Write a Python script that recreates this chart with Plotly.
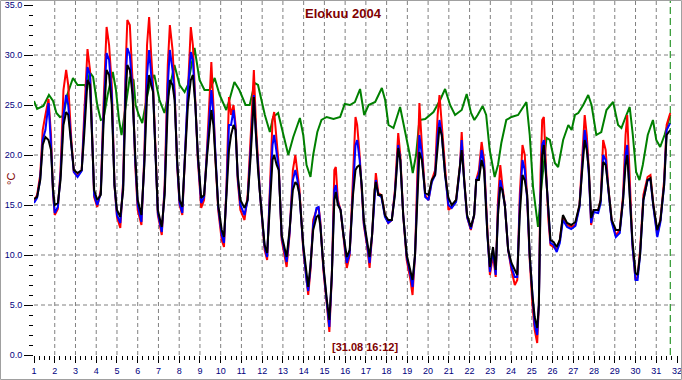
import plotly.graph_objects as go

# ---- data ----
title_text = "Elokuu 2004"
marker_text = "[31.08 16:12]"
marker_day = 31.675

t_main = [1.00, 1.15, 1.30, 1.42, 1.55, 1.70, 1.82, 1.92, 2.00, 2.15, 2.28, 2.42, 2.55, 2.65, 2.80, 2.92,
          3.10, 3.30, 3.42, 3.58, 3.70, 3.80, 3.90, 4.05, 4.22, 4.35, 4.50, 4.62, 4.75, 4.88,
          5.00, 5.16, 5.30, 5.42, 5.50, 5.62, 5.75, 5.88, 6.00, 6.18, 6.32, 6.45, 6.55, 6.65, 6.74, 6.86, 6.97,
          7.16, 7.30, 7.45, 7.55, 7.68, 7.78, 7.90, 8.02, 8.15, 8.28, 8.42, 8.56, 8.66, 8.78, 8.90,
          9.06, 9.20, 9.35, 9.48, 9.55, 9.65, 9.75, 9.88, 10.05, 10.16, 10.28, 10.40, 10.50, 10.62, 10.72, 10.82, 10.95,
          11.15, 11.30, 11.45, 11.60, 11.70, 11.80, 11.90, 12.12, 12.24, 12.36, 12.50, 12.58, 12.70, 12.80, 12.94,
          13.18, 13.32, 13.48, 13.60, 13.70, 13.80, 13.98, 14.15, 14.22, 14.33, 14.46, 14.62, 14.72, 14.80, 14.95,
          15.12, 15.24, 15.36, 15.48, 15.55, 15.65, 15.78, 15.92, 16.08, 16.22, 16.38, 16.50, 16.58, 16.70, 16.80, 16.90,
          17.05, 17.18, 17.30, 17.42, 17.48, 17.60, 17.75, 17.92, 18.08, 18.25, 18.40, 18.56, 18.66, 18.80, 18.97,
          19.15, 19.25, 19.37, 19.50, 19.58, 19.70, 19.86, 20.02, 20.18, 20.34, 20.46, 20.55, 20.66, 20.82, 20.98,
          21.14, 21.35, 21.54, 21.62, 21.74, 21.88, 22.06, 22.22, 22.32, 22.45, 22.58, 22.70, 22.86, 22.98,
          23.13, 23.26, 23.37, 23.48, 23.58, 23.70, 23.86, 24.02, 24.18, 24.30, 24.42, 24.55, 24.66, 24.78, 24.90,
          25.03, 25.14, 25.26, 25.34, 25.42, 25.50, 25.58, 25.70, 25.80, 25.90, 26.05, 26.20, 26.35, 26.50, 26.70, 26.90,
          27.10, 27.30, 27.45, 27.55, 27.65, 27.75, 27.86, 27.98, 28.20, 28.32, 28.44, 28.56, 28.70, 28.85,
          29.05, 29.24, 29.40, 29.52, 29.60, 29.70, 29.85, 30.00, 30.10, 30.22, 30.38, 30.58, 30.72, 30.86,
          31.05, 31.20, 31.38, 31.50, 31.675]

black = [15.6, 15.8, 17.5, 21.0, 21.8, 21.5, 20.5, 16.5, 15.0, 15.2, 17.5, 23.0, 24.3, 24.0, 21.0, 18.5,
         18.2, 18.5, 22.0, 27.5, 27.0, 21.0, 16.5, 15.5, 16.0, 23.0, 28.5, 28.0, 25.0, 17.0,
         14.5, 13.8, 16.5, 26.0, 29.0, 28.5, 26.0, 20.0, 15.5, 14.0, 19.0, 26.0, 28.0, 27.0, 26.3, 20.0, 14.5,
         12.8, 16.0, 25.0, 27.5, 27.0, 25.5, 19.5, 15.5, 14.8, 19.5, 25.0, 27.5, 28.0, 25.0, 20.0,
         15.7, 16.0, 20.0, 23.5, 24.5, 23.0, 20.0, 15.0, 12.5, 11.8, 16.0, 20.5, 22.0, 23.0, 22.5, 18.0, 15.5,
         14.7, 15.5, 20.0, 25.8, 22.0, 18.5, 16.0, 11.0, 10.2, 15.0, 19.5, 20.0, 19.0, 18.5, 12.0,
         9.8, 12.5, 16.5, 17.3, 17.0, 16.0, 11.0, 7.8, 6.8, 9.0, 12.5, 13.8, 14.0, 13.0, 9.0,
         5.5, 3.5, 8.0, 15.5, 16.3, 15.0, 14.5, 12.0, 9.8, 10.5, 16.0, 18.5, 18.8, 19.0, 17.0, 13.5,
         11.5, 9.8, 12.0, 16.5, 17.3, 16.0, 16.0, 14.0, 13.5, 13.5, 16.0, 20.7, 19.5, 14.0, 10.0,
         8.5, 7.5, 10.0, 17.0, 20.3, 19.5, 16.2, 16.0, 17.5, 18.0, 21.0, 22.8, 22.0, 18.0, 15.7,
         15.0, 15.5, 18.7, 20.5, 17.5, 14.0, 12.8, 14.0, 17.5, 17.5, 19.5, 18.5, 12.0, 8.8,
         10.8, 8.5, 14.0, 16.8, 16.5, 15.0, 10.5, 9.2, 8.5, 8.0, 14.0, 18.0, 17.5, 16.0, 10.0,
         6.0, 3.8, 2.7, 5.0, 15.0, 20.0, 21.0, 17.5, 14.0, 11.5, 11.3, 10.8, 11.5, 14.0, 13.2, 13.0,
         13.3, 15.0, 19.0, 21.5, 20.5, 18.5, 13.7, 14.5, 14.5, 15.5, 19.3, 19.0, 16.5, 13.5,
         12.5, 12.5, 15.5, 19.0, 20.0, 17.0, 11.5, 8.2, 8.0, 10.0, 15.5, 17.5, 17.7, 15.0,
         12.5, 13.5, 17.0, 22.0, 22.5]

red = [15.4, 16.0, 18.0, 22.5, 24.0, 25.6, 22.0, 16.0, 14.0, 14.6, 18.5, 26.5, 28.5, 27.0, 21.5, 18.3,
       17.9, 18.5, 24.0, 30.6, 28.5, 22.0, 15.8, 14.8, 16.5, 25.0, 32.8, 31.0, 27.0, 17.0,
       13.8, 12.7, 17.5, 29.0, 33.5, 33.0, 27.5, 19.0, 14.5, 13.0, 20.0, 31.0, 33.8, 30.0, 27.0, 20.5, 14.0,
       12.0, 17.0, 29.0, 33.0, 30.5, 26.5, 19.0, 15.0, 14.0, 20.0, 28.0, 32.8, 31.0, 25.5, 19.5,
       14.7, 15.5, 21.0, 27.0, 29.3, 25.0, 19.5, 14.5, 11.5, 10.8, 17.0, 25.8, 24.0, 25.0, 23.0, 17.5, 14.5,
       13.5, 16.0, 22.0, 28.5, 23.0, 19.0, 16.0, 10.5, 9.5, 16.0, 23.5, 24.3, 21.0, 19.0, 11.5,
       8.8, 12.0, 18.5, 20.0, 18.5, 16.5, 10.5, 7.0, 6.0, 8.5, 13.5, 14.5, 14.8, 13.5, 8.5,
       5.0, 2.3, 8.0, 18.5, 18.8, 15.5, 14.5, 11.5, 8.7, 10.0, 18.0, 23.8, 23.0, 20.0, 16.5, 13.0,
       11.0, 8.7, 12.0, 17.0, 18.2, 16.2, 16.0, 14.0, 13.2, 13.5, 16.5, 22.2, 20.0, 14.0, 9.5,
       7.5, 6.0, 10.0, 20.0, 25.2, 21.0, 16.0, 15.5, 17.5, 18.5, 24.0, 26.0, 23.0, 18.0, 14.5,
       14.8, 15.5, 19.0, 22.3, 17.5, 13.8, 12.5, 14.0, 17.5, 18.5, 21.3, 19.5, 12.5, 8.0,
       10.0, 7.8, 15.5, 19.0, 17.0, 15.0, 10.5, 8.5, 7.0, 7.5, 16.0, 21.0, 20.0, 15.5, 9.5,
       5.0, 2.5, 1.2, 5.0, 18.0, 23.5, 23.8, 18.0, 13.5, 11.0, 10.8, 10.5, 11.5, 13.8, 13.0, 12.8,
       13.0, 15.0, 20.0, 24.0, 22.0, 18.5, 13.0, 14.5, 14.5, 15.5, 21.5, 20.5, 16.5, 13.5,
       12.0, 12.5, 16.0, 22.0, 24.0, 18.0, 11.0, 7.5, 7.8, 10.5, 16.0, 17.8, 18.0, 15.0,
       12.0, 13.5, 17.5, 23.0, 24.2]

blue = [15.2, 15.7, 17.6, 21.5, 22.5, 25.2, 21.0, 16.2, 14.2, 14.8, 18.0, 24.0, 26.0, 25.0, 21.0, 18.3,
        17.8, 18.4, 23.0, 28.8, 28.0, 21.5, 16.0, 15.0, 16.2, 24.0, 30.2, 29.5, 26.0, 17.0,
        14.0, 13.2, 17.0, 27.5, 30.7, 30.0, 26.5, 19.5, 15.0, 13.3, 19.5, 28.0, 30.5, 28.0, 26.5, 20.0, 14.2,
        12.3, 16.5, 27.0, 30.5, 28.5, 26.0, 19.2, 15.2, 14.2, 19.8, 26.5, 30.3, 29.5, 25.0, 19.8,
        15.2, 15.8, 20.5, 25.0, 26.5, 24.0, 19.8, 14.8, 12.0, 11.2, 16.5, 23.0, 23.0, 24.5, 22.5, 17.8, 15.0,
        14.0, 15.5, 21.0, 26.0, 22.0, 18.5, 16.0, 10.8, 9.8, 15.5, 21.0, 22.0, 20.0, 18.7, 11.8,
        9.3, 12.2, 17.5, 18.5, 17.5, 16.0, 10.8, 7.3, 6.4, 8.8, 13.0, 14.7, 14.8, 13.2, 8.8,
        5.2, 2.8, 8.0, 16.5, 17.0, 15.2, 14.5, 11.8, 9.2, 10.2, 17.0, 21.0, 21.5, 19.5, 16.8, 13.2,
        11.2, 9.2, 12.0, 16.5, 17.5, 16.0, 15.8, 13.8, 13.2, 13.5, 16.2, 21.0, 19.5, 14.0, 9.8,
        8.0, 6.8, 10.0, 18.0, 22.0, 20.0, 15.8, 15.5, 17.3, 18.0, 22.0, 23.5, 22.0, 18.0, 15.0,
        14.7, 15.3, 18.8, 21.5, 17.3, 13.8, 12.6, 14.0, 17.5, 18.0, 20.5, 19.0, 12.0, 8.3,
        10.5, 8.0, 14.5, 17.5, 16.5, 15.0, 10.5, 8.8, 7.8, 7.8, 15.0, 19.5, 18.5, 15.5, 9.8,
        5.5, 3.0, 2.0, 5.0, 16.0, 21.0, 21.5, 17.5, 13.5, 11.2, 11.0, 10.3, 11.2, 13.5, 12.8, 12.6,
        12.9, 14.8, 19.5, 22.5, 21.0, 18.0, 13.2, 14.3, 14.2, 15.2, 20.0, 19.5, 16.3, 13.3,
        11.8, 12.2, 15.5, 20.0, 21.0, 17.0, 11.0, 7.5, 7.5, 10.0, 15.5, 17.5, 17.5, 14.8,
        11.8, 13.3, 17.0, 22.5, 23.2]

t_green = [1.00, 1.15, 1.45, 1.72, 1.92, 2.08, 2.25, 2.42, 2.60, 2.88, 3.10, 3.45, 3.56, 3.68, 3.85,
           4.05, 4.22, 4.35, 4.55, 4.80, 4.95, 5.10, 5.22, 5.40, 5.62, 5.80, 5.90, 6.05, 6.22, 6.42, 6.60, 6.80,
           7.05, 7.29, 7.53, 7.77, 8.02, 8.26, 8.42, 8.74, 8.98, 9.22, 9.47, 9.71, 9.95, 10.27, 10.42, 10.66, 10.90,
           11.20, 11.40, 11.64, 11.80, 11.97, 12.13, 12.37, 12.53, 12.77, 13.02, 13.26, 13.50, 13.82, 13.98,
           14.14, 14.33, 14.46, 14.66, 14.86, 15.11, 15.44, 15.76, 15.98, 16.23, 16.47, 16.72, 16.92,
           17.13, 17.45, 17.77, 17.93, 18.09, 18.33, 18.65, 18.89, 19.10, 19.26, 19.42, 19.58, 19.86,
           20.26, 20.58, 20.82, 21.06, 21.30, 21.62, 21.86, 22.07, 22.23, 22.39, 22.63, 22.80, 22.97,
           23.21, 23.37, 23.53, 23.77, 24.02, 24.34, 24.50, 24.74, 24.90, 25.06, 25.30, 25.47, 25.71, 25.87,
           26.11, 26.27, 26.51, 26.76, 26.92, 27.08, 27.24, 27.48, 27.72, 27.88, 28.11, 28.35, 28.60, 28.92,
           29.16, 29.32, 29.56, 29.72, 29.87, 30.03, 30.19, 30.35, 30.59, 30.84, 31.00, 31.19, 31.40, 31.675]

green = [25.4, 24.6, 24.9, 26.0, 25.4, 24.2, 23.8, 23.9, 26.0, 27.7, 27.0, 27.0, 26.5, 28.3, 27.8,
         25.0, 23.5, 23.6, 26.0, 28.3, 26.5, 23.5, 22.0, 24.5, 27.8, 27.5, 25.0, 24.0, 23.2, 25.5, 27.3, 28.0,
         25.5, 24.2, 26.5, 29.0, 27.0, 26.3, 27.0, 30.7, 27.5, 26.5, 26.5, 27.7, 26.0, 24.5, 25.5, 27.3, 26.5,
         25.0, 25.0, 27.2, 27.0, 25.5, 24.0, 22.3, 23.8, 24.2, 22.0, 20.0, 21.8, 23.7, 22.0,
         19.0, 17.8, 20.0, 22.3, 23.5, 23.8, 23.6, 23.8, 25.1, 25.0, 25.3, 26.6, 24.0,
         25.0, 25.3, 26.7, 25.5, 23.0, 22.7, 24.8, 22.5, 20.2, 18.2, 20.0, 23.5, 23.6,
         24.3, 25.5, 26.6, 25.0, 24.0, 24.5, 26.1, 24.2, 23.5, 24.0, 24.9, 24.0, 20.5,
         17.8, 19.0, 21.2, 23.5, 23.8, 24.0, 24.5, 25.3, 22.0, 16.8, 12.8, 17.0, 21.7, 21.5,
         19.2, 18.8, 21.5, 23.0, 22.5, 24.0, 24.2, 25.0, 26.0, 25.0, 22.0, 22.3, 24.5, 25.3,
         23.0, 22.7, 24.0, 24.8, 22.0, 18.3, 17.5, 19.0, 22.0, 23.5, 21.5, 20.8, 22.0, 24.0]

x_ticks = list(range(1, 33))
y_ticks = [0, 5, 10, 15, 20, 25, 30, 35]
x_grid = list(range(2, 32))
y_grid = [5, 10, 15, 20, 25, 30]

DARKRED = "#800000"
NAVY = "#000080"

fig = go.Figure()
fig.add_trace(go.Scatter(x=t_green, y=green, mode="lines", line=dict(color="#008000", width=2), name="green"))
fig.add_trace(go.Scatter(x=t_main, y=red, mode="lines", line=dict(color="#ff0000", width=2), name="red"))
fig.add_trace(go.Scatter(x=t_main, y=blue, mode="lines", line=dict(color="#0000ff", width=2), name="blue"))
fig.add_trace(go.Scatter(x=t_main, y=black, mode="lines", line=dict(color="#000000", width=2), name="black"))

shapes = []
for gx in x_grid:
    shapes.append(dict(type="line", xref="x", yref="paper", x0=gx, x1=gx, y0=0, y1=1,
                       line=dict(color="#808080", width=1, dash="4px,3px"), layer="below"))
for gy in y_grid:
    shapes.append(dict(type="line", xref="paper", yref="y", x0=0, x1=1, y0=gy, y1=gy,
                       line=dict(color="#808080", width=1, dash="4px,3px"), layer="below"))
shapes.append(dict(type="line", xref="x", yref="paper", x0=marker_day, x1=marker_day, y0=0, y1=1,
                   line=dict(color="#008000", width=1, dash="7px,4px")))
# outer frame of the picture
shapes.append(dict(type="rect", xref="paper", yref="paper",
                   x0=-33.5 / 643, x1=(681.5 - 34) / 643, y0=(355 - 379.5) / 354, y1=(355 - 0.5) / 354,
                   line=dict(color="#a0a0a0", width=1), fillcolor="rgba(0,0,0,0)"))

fig.update_layout(
    width=682, height=380,
    margin=dict(l=34, r=5, t=1, b=25),
    paper_bgcolor="white", plot_bgcolor="white",
    showlegend=False,
    shapes=shapes,
    font=dict(family="Liberation Sans, Arial, sans-serif", size=9, color=NAVY),
    annotations=[
        dict(text="<b>" + title_text + "</b>", xref="paper", yref="paper", x=(343 - 34) / 643, y=(355 - 13) / 354,
             showarrow=False, font=dict(size=13, color=DARKRED), xanchor="center", yanchor="middle"),
        dict(text="<b>" + marker_text + "</b>", xref="paper", yref="paper", x=(365 - 34) / 643, y=(355 - 347) / 354,
             showarrow=False, font=dict(size=11, color=DARKRED), xanchor="center", yanchor="middle"),
        dict(text="°C", xref="paper", yref="paper", x=(11 - 34) / 643, y=(355 - 179) / 354, textangle=-90,
             showarrow=False, font=dict(size=11, color=DARKRED), xanchor="center", yanchor="middle"),
    ],
)
fig.update_xaxes(range=[1, 32], tickvals=x_ticks, ticktext=[str(v) for v in x_ticks],
                 ticks="outside", ticklen=7, tickcolor="black", tickwidth=1,
                 showgrid=False, zeroline=False, showline=False, ticklabeloverflow="allow",
                 minor=dict(dtick=0.25, tick0=1, ticks="outside", ticklen=4, tickcolor="black", showgrid=False),
                 tickfont=dict(size=9, color=NAVY))
fig.update_yaxes(range=[0, 35.4], tickvals=y_ticks, tickformat=".1f",
                 ticks="outside", ticklen=9, tickcolor="black", tickwidth=1,
                 showgrid=False, zeroline=False, showline=False,
                 minor=dict(dtick=1, tick0=0, ticks="outside", ticklen=4, tickcolor="black", showgrid=False),
                 tickfont=dict(size=9, color=NAVY))

fig.write_html("out.html", config={"displayModeBar": False},
               post_script="document.body.style.margin='0px';")
